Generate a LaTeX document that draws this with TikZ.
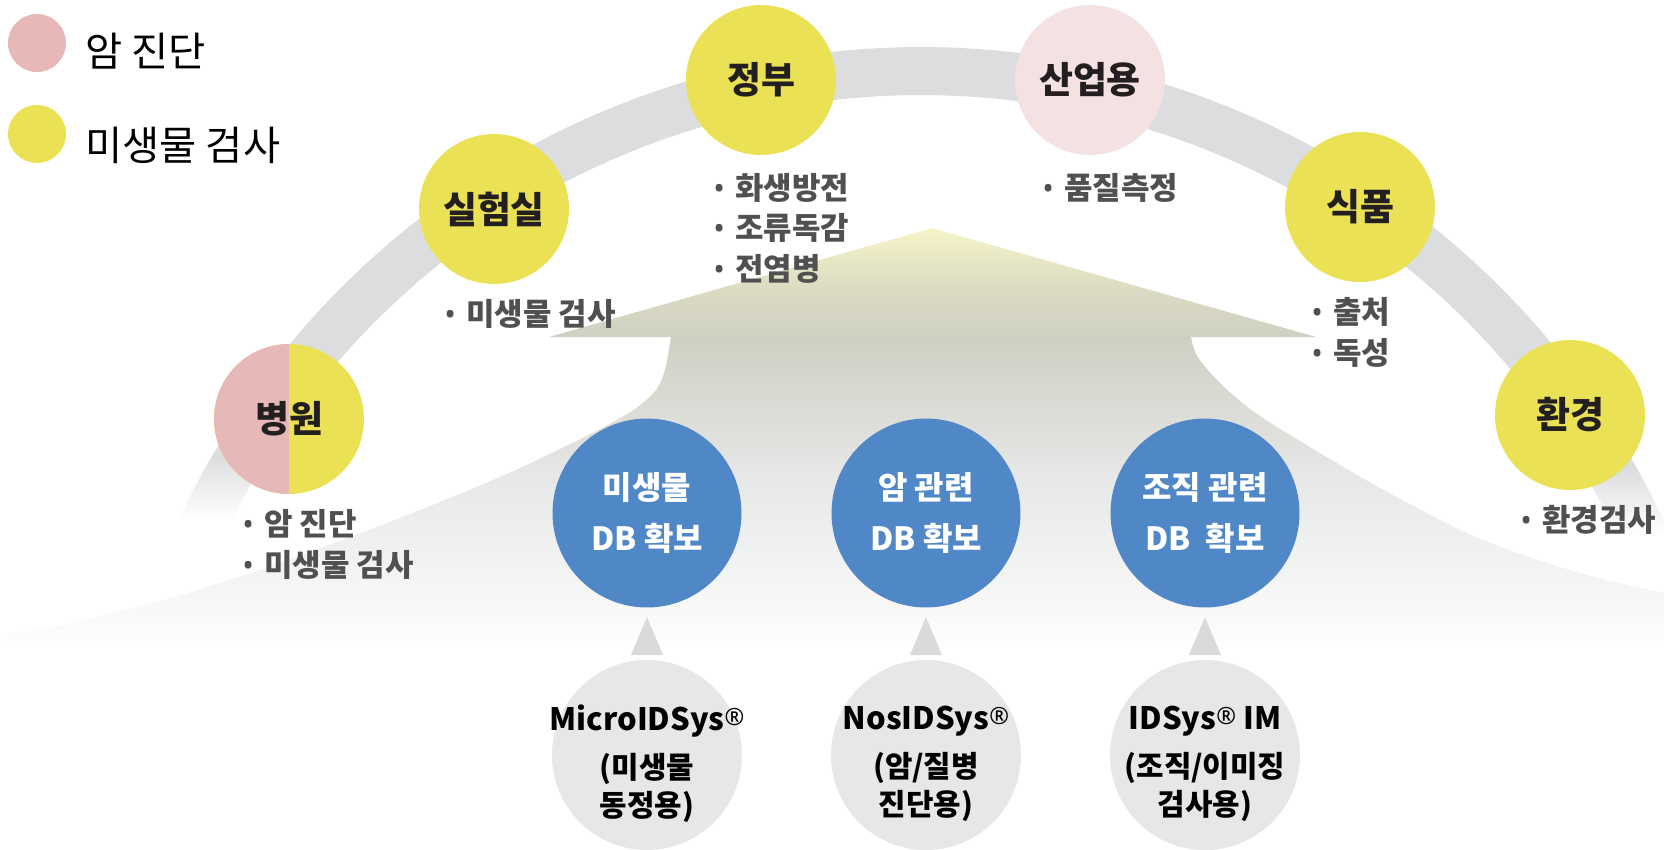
\documentclass[tikz,border=0pt]{standalone}
\usepackage{fontspec}
\setmainfont{Noto Sans CJK KR}
\newfontfamily\latinfont{Noto Sans}
\usetikzlibrary{shapes.geometric,fadings}

\definecolor{yelc}{HTML}{EAE155}
\definecolor{pinkc}{HTML}{E6B8B8}
\definecolor{lpinkc}{HTML}{F4E1E1}
\definecolor{bandc}{HTML}{DCDDDF}
\definecolor{dbblue}{HTML}{4F87C7}
\definecolor{sysgray}{HTML}{E6E7E8}
\definecolor{trigray}{HTML}{D9DADC}
\definecolor{labc}{HTML}{231F20}
\definecolor{bulc}{HTML}{505050}
\definecolor{mtA}{HTML}{F7F7F7}
\definecolor{mtB}{HTML}{F1F2F2}
\definecolor{mtC}{HTML}{E7E8E8}
\definecolor{mtD}{HTML}{DDDED9}
\definecolor{mtE}{HTML}{CFD0C2}
\definecolor{mtF}{HTML}{DBDBC3}
\definecolor{mtG}{HTML}{F5F4C8}

\pgfdeclareverticalshading{mtnshade}{100bp}{color(0bp)=(white); color(25bp)=(white); color(30.92bp)=(mtA); color(35.66bp)=(mtB); color(45.14bp)=(mtC); color(52.25bp)=(mtD); color(62.09bp)=(mtE); color(67.65bp)=(mtF); color(75bp)=(mtG); color(100bp)=(mtG)}

\newcommand{\dotb}{{\latinfont •}\hspace{0.33em}}
\newcommand{\regm}{\raisebox{0.18em}{\fontsize{13.5}{13.5}\selectfont\latinfont ®}}

\begin{document}
\begin{tikzpicture}[x=0.02cm, y=-0.02cm]
					\tikzstyle{site} = [
						circle,
						fill=yelc,
						minimum size=3cm,
						inner sep=0pt,
						text=labc,
						font=\fontsize{21}{25}\selectfont\bfseries
					]
					\tikzstyle{dbcirc} = [circle, fill=dbblue, minimum size=3.78cm, inner sep=0pt, align=center, text=white, font=\fontsize{18.2}{29.5}\selectfont\bfseries]
					\tikzstyle{syscirc} = [circle, fill=sysgray, minimum size=3.8cm, inner sep=0pt]
					\tikzstyle{systext} = [align=center, inner sep=0pt, text=black, font=\fontsize{17}{22}\selectfont\bfseries]
					\tikzstyle{bullets} = [anchor=base west, align=left, inner sep=0pt, text=bulc, font=\fontsize{17.6}{23}\selectfont\bfseries]
					\tikzstyle{uptri} = [isosceles triangle, isosceles triangle stretches, fill=trigray, rotate=90, anchor=apex, minimum width=0.64cm, minimum height=0.76cm, inner sep=0pt, outer sep=0pt]
					\tikzstyle{legdot} = [circle, minimum size=1.16cm, inner sep=0pt]
					\tikzstyle{legtext} = [anchor=base west, inner sep=0pt, font=\fontsize{23}{27}\selectfont]

					\useasboundingbox (0,0) rectangle (1664,849);
					\fill [white] (0,0) rectangle (1664,849);

					\draw [bandc, line width=0.96cm] plot[domain=24:156, samples=120] ({921+795*cos(\x)}, {866-795*sin(\x)});
					\fill [white, path fading=north] (120,455) rectangle (300,518);
					\fill [white] (120,518) rectangle (300,580);
					\fill [white, path fading=north] (1560,468) rectangle (1664,532);
					\fill [white] (1560,532) rectangle (1664,600);

					\shade [shading=mtnshade] (932,228) -- (1316,337) -- (1191,337)
						-- plot[smooth, tension=0.5] coordinates {(1191,337) (1197,356) (1218,381) (1250,409) (1290,435) (1380,488) (1478,538) (1580,573) (1664,593)}
						-- (1664,650) -- (0,650) -- (0,634)
						-- plot[smooth, tension=0.5] coordinates {(40,630) (150,604) (268,567) (400,518) (500,477) (560,449) (602,428) (635,409) (656,390) (665,370) (671,337)}
						-- (549,337) -- cycle;

					\node (Leg0) [style=legdot, fill=pinkc] at (37,43) {};
					\node (Leg1) [style=legdot, fill=yelc] at (37,134) {};
					\node (LegTxt0) [style=legtext] at (85,66) {암 진단};
					\node (LegTxt1) [style=legtext] at (85,160) {미생물 검사};

					\node (Site0) [style=site, path picture={\fill [pinkc] (path picture bounding box.south west) rectangle (path picture bounding box.north);}] at (289,419) {병원};
					\node (Site1) [style=site] at (494,209) {실험실};
					\node (Site2) [style=site] at (761,80) {정부};
					\node (Site3) [style=site, fill=lpinkc] at (1090,80) {산업용};
					\node (Site4) [style=site] at (1360,207) {식품};
					\node (Site5) [style=site] at (1570,415) {환경};

					\node (Note0) [style=bullets] at (242,576) {\dotb 암 진단\\\dotb 미생물 검사};
					\node (Note1) [style=bullets] at (444,325) {\dotb 미생물 검사};
					\node (Note2) [style=bullets] at (713,280) {\dotb 화생방전\\\dotb 조류독감\\\dotb 전염병};
					\node (Note3) [style=bullets] at (1042,199) {\dotb 품질측정};
					\node (Note4) [style=bullets] at (1311,364) {\dotb 출처\\\dotb 독성};
					\node (Note5) [style=bullets] at (1520,531) {\dotb 환경검사};

					\node (Db0) [style=dbcirc] at (647,513) {미생물\\DB 확보};
					\node (Db1) [style=dbcirc] at (926,513) {암 관련\\DB 확보};
					\node (Db2) [style=dbcirc] at (1205,513) {조직 관련\\DB\ \ 확보};

					\node (Tri0) [style=uptri] at (647,617) {};
					\node (Tri1) [style=uptri] at (926,617) {};
					\node (Tri2) [style=uptri] at (1205,617) {};

					\node (Sys0) [style=syscirc] at (647,755) {};
					\node (Sys1) [style=syscirc] at (926,755) {};
					\node (Sys2) [style=syscirc] at (1205,755) {};

					\node (SysTxt0) [style=systext] at (647,764) {{\fontsize{17.6}{22}\selectfont MicroIDSys\regm}\\[5pt](미생물\\동정용)};
					\node (SysTxt1) [style=systext] at (926,764) {{\fontsize{17.6}{22}\selectfont NosIDSys\regm}\\[5pt](암/질병\\진단용)};
					\node (SysTxt2) [style=systext] at (1205,764) {{\fontsize{17.6}{22}\selectfont IDSys\regm\ IM}\\[5pt](조직/이미징\\검사용)};
				\end{tikzpicture}
\end{document}
